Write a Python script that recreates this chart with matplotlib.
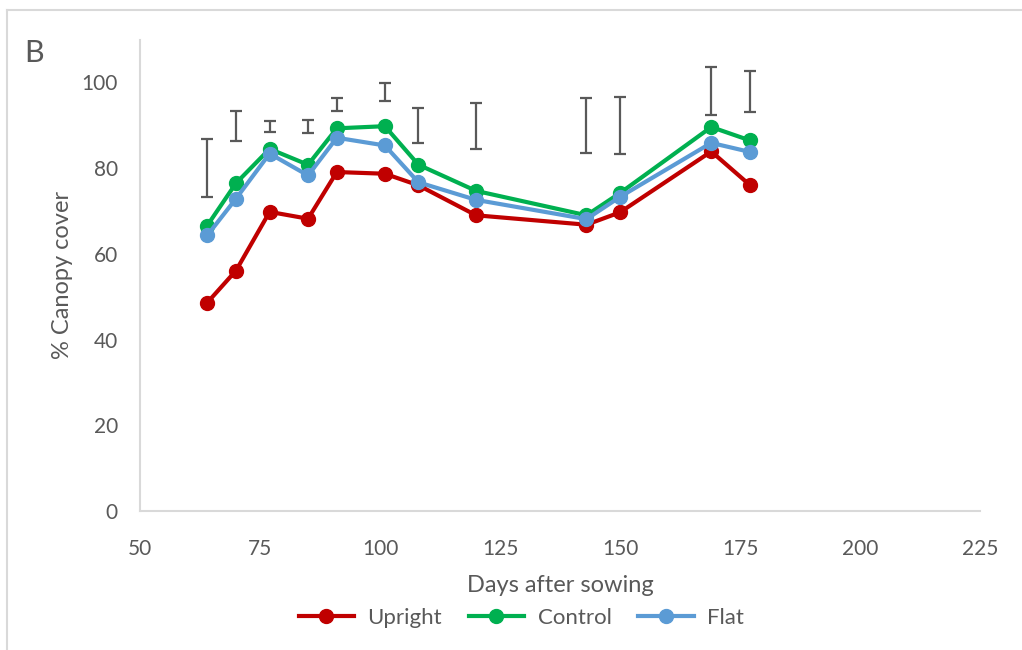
import matplotlib
matplotlib.use("Agg")
import matplotlib.pyplot as plt
from matplotlib.lines import Line2D

plt.rcParams['font.family'] = ['Lato', 'DejaVu Sans']

days = [64, 70, 77, 85, 91, 101, 108, 120, 143, 150, 169, 177]
upright = [48.6, 56.1, 69.8, 68.2, 79.1, 78.7, 76.0, 69.0, 66.8, 69.7, 83.9, 76.1]
control = [66.6, 76.5, 84.5, 80.8, 89.3, 89.8, 80.8, 74.7, 69.0, 74.2, 89.6, 86.5]
flat = [64.3, 72.9, 83.4, 78.3, 87.1, 85.3, 76.7, 72.6, 68.1, 73.3, 85.9, 83.8]

# LSD bars, drawn as floating bars above the curves
lsd_low = [73.2, 86.4, 88.5, 88.3, 93.4, 95.6, 85.9, 84.5, 83.5, 83.2, 92.3, 93.2]
lsd_high = [86.7, 93.3, 91.0, 91.3, 96.3, 99.9, 94.1, 95.3, 96.3, 96.6, 103.6, 102.6]

grey = '#595959'
axis_grey = '#D9D9D9'

fig = plt.figure(figsize=(10.22, 6.5), dpi=100)
ax = fig.add_axes([0.137, 0.214, 0.822, 0.725])

mid = [(a + b) / 2 for a, b in zip(lsd_low, lsd_high)]
half = [(b - a) / 2 for a, b in zip(lsd_low, lsd_high)]
ax.errorbar(days, mid, yerr=half, fmt='none', ecolor=grey, elinewidth=1.6,
            capsize=4.5, capthick=1.6, zorder=2)

series = [('Upright', upright, '#C00000'),
          ('Control', control, '#00B050'),
          ('Flat', flat, '#5B9BD5')]
for name, vals, col in series:
    ax.plot(days, vals, color=col, lw=3, marker='o', ms=10, label=name, zorder=3)

ax.set_xlim(50, 225)
ax.set_ylim(0, 110)
ax.set_xticks(range(50, 226, 25))
ax.set_yticks(range(0, 101, 20))
ax.tick_params(length=0, labelsize=15, colors=grey)
ax.tick_params(axis='y', pad=16)
ax.tick_params(axis='x', pad=20)
for s in ['top', 'right']:
    ax.spines[s].set_visible(False)
for s in ['left', 'bottom']:
    ax.spines[s].set_color(axis_grey)
    ax.spines[s].set_linewidth(1.5)

ax.set_xlabel('Days after sowing', fontsize=17, color=grey, labelpad=12)
ax.set_ylabel('% Canopy cover', fontsize=17, color=grey, labelpad=6)

handles = [Line2D([], [], color=c, lw=3, marker='o', ms=10) for _, _, c in series]
fig.legend(handles, [n for n, _, _ in series], loc='center', ncol=3,
           bbox_to_anchor=(0.51, 0.05), frameon=False, fontsize=16,
           labelcolor=grey, handlelength=2.5, handletextpad=0.6,
           columnspacing=1.2)

fig.text(0.024, 0.905, 'B', fontsize=22, color=grey)

# thin frame around the panel
fig.add_artist(Line2D([0.007, 0.007], [0, 0.985], transform=fig.transFigure,
                      color=axis_grey, lw=1.5))
fig.add_artist(Line2D([0.007, 1.0], [0.985, 0.985], transform=fig.transFigure,
                      color=axis_grey, lw=1.5))

fig.savefig('out.png', dpi=100)
